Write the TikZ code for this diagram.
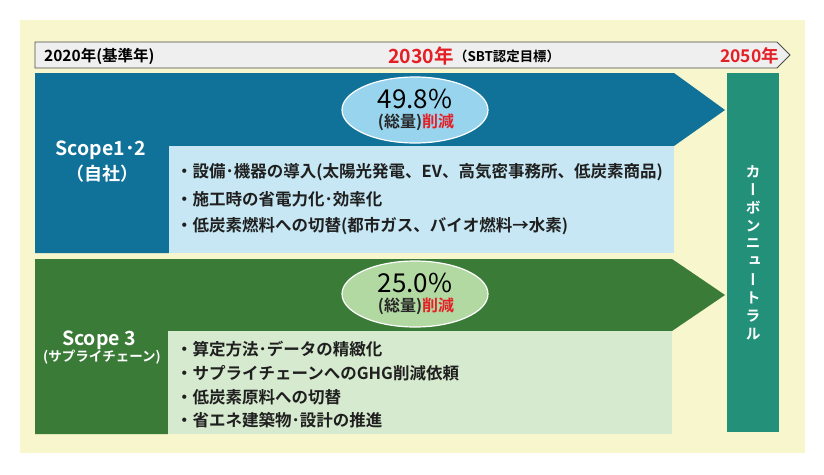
\documentclass[tikz,border=0pt]{standalone}
\usepackage{fontspec}
\usepackage{tikz}
\usetikzlibrary{shapes.geometric}
\setmainfont{Noto Sans CJK JP}[BoldFont={* Bold}]
\newfontfamily\vjp{Noto Sans CJK JP}[BoldFont={* Bold},RawFeature=+vert]
\definecolor{crem}{RGB}{248,246,204}
\definecolor{gry}{RGB}{239,239,239}
\definecolor{blu}{RGB}{17,114,153}
\definecolor{lblu}{RGB}{198,231,243}
\definecolor{eblu}{RGB}{152,212,238}
\definecolor{gree}{RGB}{58,123,55}
\definecolor{lgree}{RGB}{214,234,207}
\definecolor{egree}{RGB}{179,217,163}
\definecolor{tea}{RGB}{35,145,122}
\definecolor{red}{RGB}{228,31,38}

\begin{document}
\begin{tikzpicture}[x=1pt,y=-1pt,
  item/.style={anchor=west,inner sep=0pt,text=black!88,font=\bfseries\fontsize{16.5}{17}\selectfont},
  scp/.style={inner sep=0pt,text=white,font=\bfseries\fontsize{19.5}{20}\selectfont},
  pct/.style={inner sep=0pt,text=black,font=\fontsize{26}{27}\selectfont},
  red/.style={inner sep=0pt,text=black!85,font=\bfseries\fontsize{16}{17}\selectfont},
  yr/.style={anchor=west,inner sep=0pt,font=\bfseries\fontsize{19.5}{20}\selectfont},
  cn/.style={inner sep=0pt,text=white,font=\vjp\bfseries\fontsize{15}{15}\selectfont},
  oval/.style={ellipse,draw=white,line width=1.2pt,minimum width=146pt,minimum height=66pt,inner sep=0pt}]
\useasboundingbox (0,0) rectangle (824,474);
\fill[white] (0,0) rectangle (824,474);
\fill[crem] (20,20) rectangle (805,453);

\coordinate (T1) at (35,42);
\coordinate (T2) at (777,42);
\coordinate (T3) at (790,55);
\coordinate (T4) at (777,68);
\coordinate (T5) at (35,68);
\draw[fill=gry,draw=black!70,line width=0.8pt] (T1) -- (T2) -- (T3) -- (T4) -- (T5) --cycle;

\node[yr,font=\bfseries\fontsize{15.5}{16}\selectfont] (y2020) at (44,56) {2020年(基準年)};
\node[yr,text=red] (y2030) at (388,56) {2030年};
\node[anchor=west,inner sep=0pt,font=\bfseries\fontsize{13.4}{14}\selectfont] (sbt) at (y2030.east) {（SBT認定目標）};
\node[yr,text=red,font=\bfseries\fontsize{17.5}{18}\selectfont] (y2050) at (720,56) {2050年};

% Scope1-2
\fill[blu] (35,73) -- (674,73) -- (725,110) -- (674,146) -- (169,146) -- (169,253) -- (35,253) --cycle;
\fill[lblu] (169,146) rectangle (674,253);
\node[oval,fill=eblu] (e1) at (415,110) {};
\node[pct] (p1) at (415,99) {49.8\%};
\node[red] (r1) at (416,122) {(総量)\textcolor{red}{削減}};
\node[scp] (s1) at (101,150) {Scope1･2};
\node[scp,font=\bfseries\fontsize{18}{19}\selectfont] (s1b) at (102,174) {（自社）};
\node[item] (b1) at (176,172) {・設備･機器の導入(太陽光発電、EV、高気密事務所、低炭素商品)};
\node[item] (b2) at (176,199) {・施工時の省電力化･効率化};
\node[item] (b3) at (176,226) {・低炭素燃料への切替(都市ガス、バイオ燃料→水素)};

% Scope3
\fill[gree] (35,259) -- (672,259) -- (725,295) -- (672,331) -- (168,331) -- (168,434) -- (35,434) --cycle;
\fill[lgree] (168,331) rectangle (672,434);
\node[oval,fill=egree] (e2) at (415,294) {};
\node[pct] (p2) at (415,283) {25.0\%};
\node[red] (r2) at (416,306) {(総量)\textcolor{red}{削減}};
\node[scp] (s3) at (99,340) {Scope 3};
\node[scp,font=\bfseries\fontsize{13.5}{14}\selectfont] (s3b) at (102,357) {(サプライチェーン)};
\node[item] (g1) at (176,349) {・算定方法･データの精緻化};
\node[item] (g2) at (176,373) {・サプライチェーンへのGHG削減依頼};
\node[item] (g3) at (176,397) {・低炭素原料への切替};
\node[item] (g4) at (176,420) {・省エネ建築物･設計の推進};

% carbon neutral
\fill[tea] (727,73) rectangle (779,432);
\foreach \c [count=\i] in {カ,ー,ボ,ン,ニ,ュ,ー,ト,ラ,ル}
  \node[cn] (cn\i) at (753,154+18*\i) {\c};
\end{tikzpicture}
\end{document}
